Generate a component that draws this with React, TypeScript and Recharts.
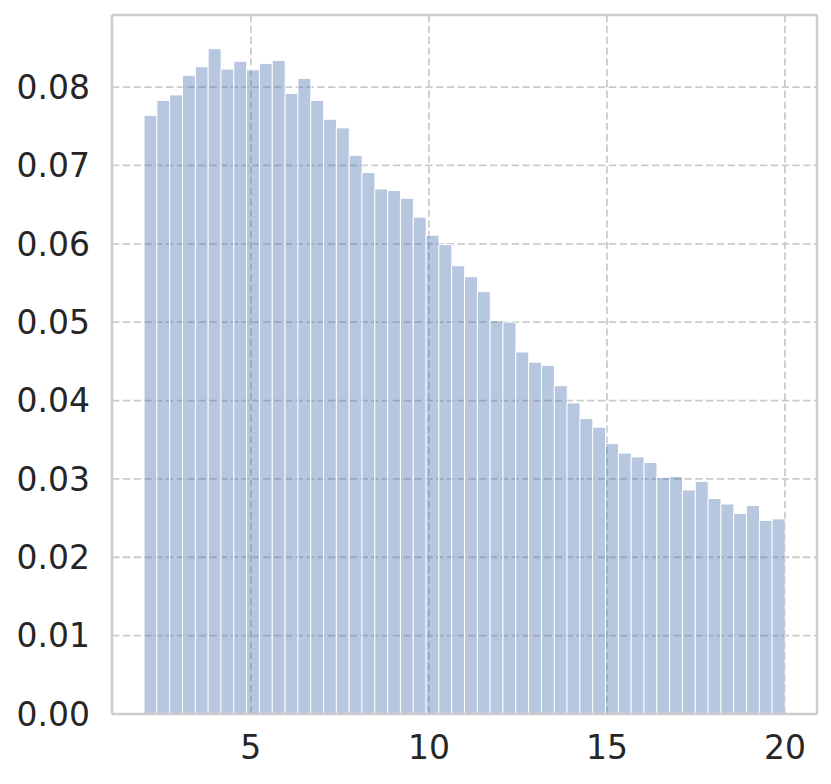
import React from "react";
import {
  ComposedChart,
  Bar,
  XAxis,
  YAxis,
  CartesianGrid,
  ReferenceLine,
} from "recharts";

// Histogram bins: 50 equal bins spanning 2 .. 20
const binMin = 2;
const binMax = 20;
const binCount = 50;

// Density of each bin (left to right)
const densities = [
  0.0764, 0.0783, 0.0790, 0.0815, 0.0826, 0.0849, 0.0823, 0.0833, 0.0822, 0.0830,
  0.0834, 0.0792, 0.0811, 0.0783, 0.0759, 0.0748, 0.0713, 0.0691, 0.0670, 0.0668,
  0.0658, 0.0634, 0.0611, 0.0599, 0.0572, 0.0558, 0.0539, 0.0502, 0.0500, 0.0462,
  0.0449, 0.0445, 0.0419, 0.0397, 0.0377, 0.0366, 0.0345, 0.0333, 0.0328, 0.0321,
  0.0302, 0.0303, 0.0286, 0.0297, 0.0275, 0.0268, 0.0256, 0.0266, 0.0247, 0.0249,
];

const xTicks = [5, 10, 15, 20];
const yTicks = [0, 0.01, 0.02, 0.03, 0.04, 0.05, 0.06, 0.07, 0.08];
const xDomain: [number, number] = [1.1, 20.9];
const yDomain: [number, number] = [0, 0.0892];

const binWidth = (binMax - binMin) / binCount;
const data = densities.map((d, i) => ({
  x: binMin + binWidth * (i + 0.5),
  density: d,
}));

const frame = "#cccccc";
const textColor = "#262626";
const font = "DejaVu Sans";

export default function App() {
  return (
    <div style={{ position: "absolute", left: 0, top: 0 }}>
      <ComposedChart
        width={831}
        height={784}
        data={data}
        margin={{ top: 15, right: 14, bottom: 0, left: 0 }}
        barCategoryGap={0}
        barGap={0}
      >
        <CartesianGrid
          stroke="#cbcbcb"
          strokeWidth={1.8}
          strokeDasharray="7.4 3.4"
          horizontalValues={yTicks}
          verticalValues={xTicks}
        />
        <XAxis
          dataKey="x"
          type="number"
          domain={xDomain}
          ticks={xTicks}
          height={70}
          tickLine={false}
          tickSize={0}
          tickMargin={22}
          axisLine={{ stroke: frame, strokeWidth: 2.5 }}
          tick={{ fill: textColor, fontSize: 33, fontFamily: font }}
          allowDataOverflow
        />
        <YAxis
          type="number"
          domain={yDomain}
          ticks={yTicks}
          width={112}
          tickLine={false}
          tickSize={0}
          tickMargin={22}
          axisLine={{ stroke: frame, strokeWidth: 2.5 }}
          tick={{ fill: textColor, fontSize: 33, fontFamily: font }}
          tickFormatter={(v: number) => v.toFixed(2)}
          allowDataOverflow
        />
        <Bar
          dataKey="density"
          fill="#4c72b0"
          fillOpacity={0.4}
          stroke="#ffffff"
          strokeWidth={1}
          isAnimationActive={false}
        />
        <ReferenceLine y={yDomain[1]} stroke={frame} strokeWidth={2.5} ifOverflow="visible" />
        <ReferenceLine x={xDomain[1]} stroke={frame} strokeWidth={2.5} ifOverflow="visible" />
      </ComposedChart>
    </div>
  );
}
